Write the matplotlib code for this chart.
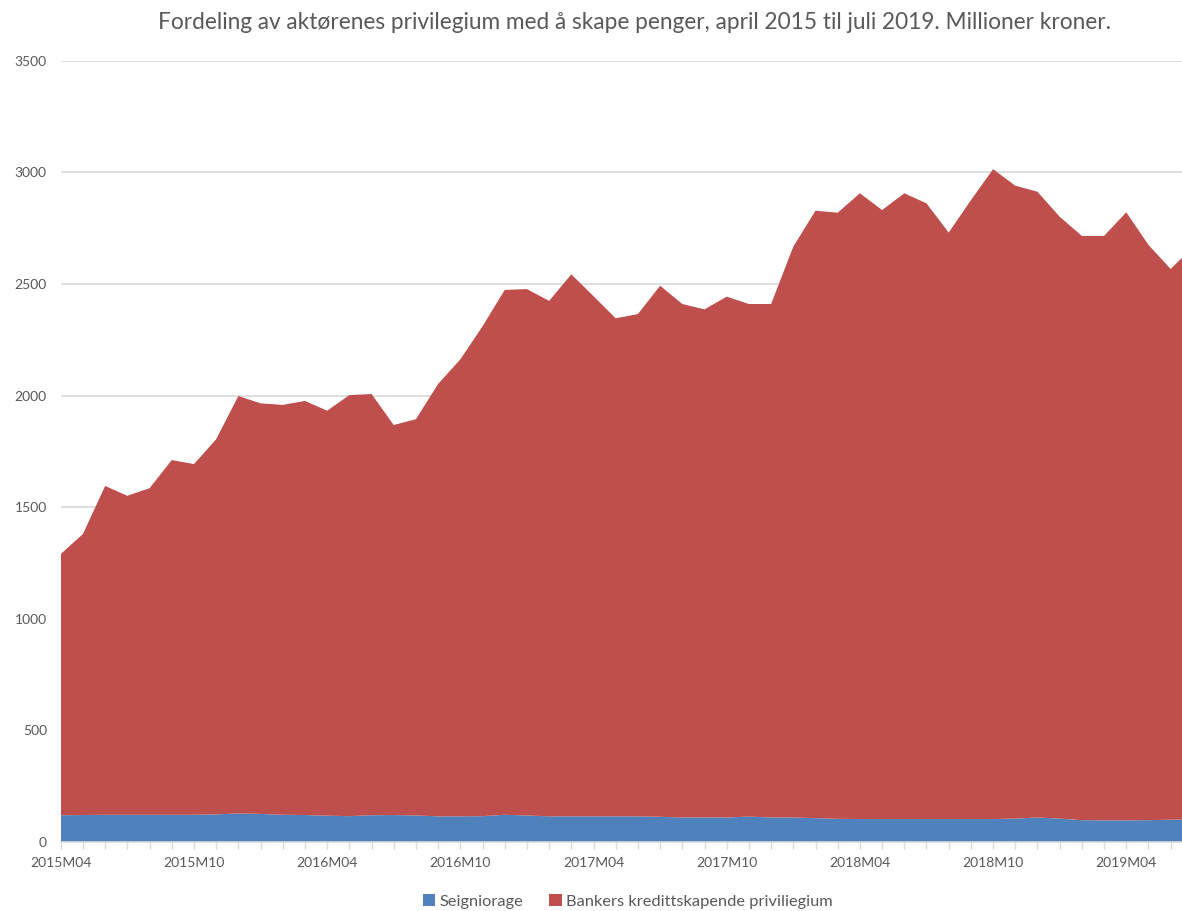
import numpy as np
import matplotlib.pyplot as plt
from matplotlib.ticker import MultipleLocator, FixedLocator

plt.rcParams['font.family'] = ['Lato', 'DejaVu Sans']

# monthly values, April 2015 - July 2019 (million NOK)
months = [f"{2015 + (3 + i) // 12}M{(3 + i) % 12 + 1:02d}" for i in range(52)]

seigniorage = [120, 121, 122, 122, 122, 122, 122, 124, 128, 126, 122, 121, 118,
               116, 120, 121, 119, 115, 115, 116, 122, 119, 115, 115, 115, 115,
               115, 113, 110, 110, 110, 114, 110, 110, 107, 104, 103, 103, 103,
               103, 103, 103, 103, 105, 110, 105, 98, 97, 97, 98, 100, 101]

bank_privilege = [1170, 1259, 1473, 1429, 1463, 1589, 1571, 1680, 1870, 1839,
                  1836, 1855, 1814, 1886, 1887, 1747, 1775, 1937, 2047, 2194,
                  2351, 2358, 2309, 2428, 2330, 2231, 2250, 2379, 2300, 2276,
                  2333, 2296, 2300, 2557, 2721, 2715, 2803, 2728, 2803, 2758,
                  2627, 2772, 2911, 2835, 2803, 2696, 2617, 2618, 2724, 2577,
                  2467, 2564]

labels = ['Seigniorage', 'Bankers kredittskapende priviliegium']
colors = ['#4F81BD', '#BE4F4D']
text_color = '#595959'

fig = plt.figure(figsize=(11.82, 9.11), dpi=100)
ax = fig.add_axes([0.0514, 0.0757, 0.9486, 0.8577])

x = np.arange(len(months))
ax.stackplot(x, seigniorage, bank_privilege, colors=colors, labels=labels,
             linewidth=0, zorder=2)

ax.set_xlim(0, 50.51)
ax.set_ylim(0, 3500)
ax.yaxis.set_major_locator(MultipleLocator(500))
ax.grid(axis='y', color='#d9d9d9', linewidth=1.2, zorder=0)
ax.set_axisbelow(True)

for side in ['top', 'right', 'left']:
    ax.spines[side].set_visible(False)
ax.spines['bottom'].set_color('#d9d9d9')
ax.spines['bottom'].set_linewidth(1.2)
ax.spines['bottom'].set_zorder(3)

ax.xaxis.set_major_locator(FixedLocator(x[::6]))
ax.set_xticklabels(months[::6])
ax.xaxis.set_minor_locator(FixedLocator(x))
ax.tick_params(axis='x', which='both', length=5, color='#d9d9d9', width=1,
               labelsize=10, labelcolor=text_color, pad=6)
ax.tick_params(axis='y', length=0, labelsize=10, labelcolor=text_color, pad=10)

fig.suptitle('Fordeling av aktørenes privilegium med å skape penger, april 2015 til juli 2019. Millioner kroner.',
             x=0.537, y=0.987, va='top', fontsize=16.3, color=text_color)

fig.legend(loc='lower center', bbox_to_anchor=(0.531, -0.014), ncol=2,
           frameon=False, fontsize=11.8, handlelength=0.75, handleheight=0.75,
           handletextpad=0.25, columnspacing=1.6, labelcolor=text_color)

fig.savefig('out.png', dpi=100)
